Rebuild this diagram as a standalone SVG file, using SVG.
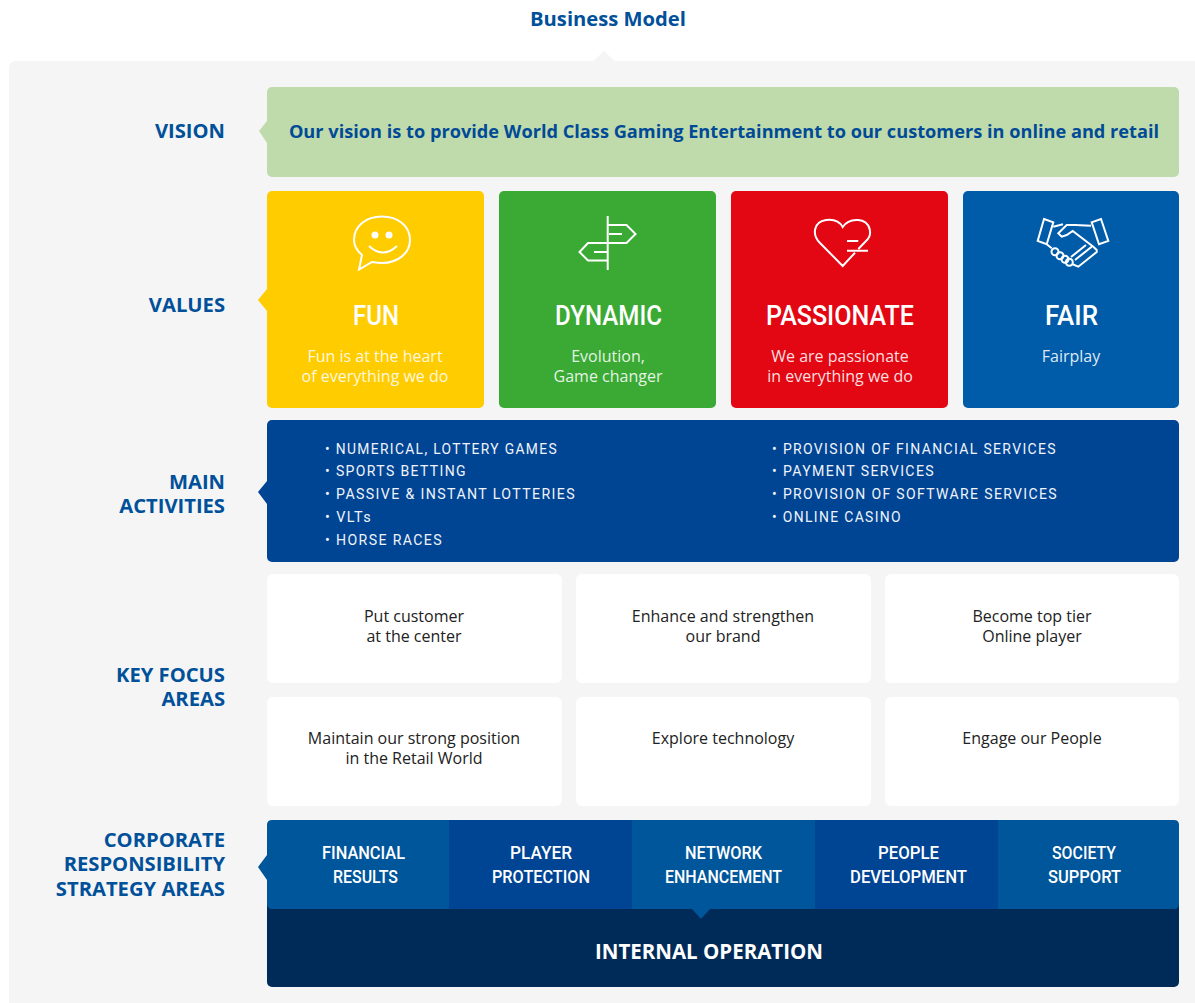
<svg xmlns="http://www.w3.org/2000/svg" width="1195" height="1003" viewBox="0 0 1195 1003">
<style>
.s{font-family:"Open Sans","Liberation Sans",sans-serif}
.lab{font-family:"Open Sans","Liberation Sans",sans-serif;font-weight:700;font-size:20.200px;fill:#00509a;text-anchor:end}
.big{font-family:"Roboto","Liberation Sans",sans-serif;font-weight:500;font-size:27px;fill:#fff;text-anchor:middle}
.sub{font-family:"Open Sans","Liberation Sans",sans-serif;font-size:16px;fill:#fff;fill-opacity:.88;text-anchor:middle}
.foc{font-family:"Open Sans","Liberation Sans",sans-serif;font-size:16px;fill:#222;text-anchor:middle}
.act{font-family:"Roboto","Liberation Sans",sans-serif;font-size:15.500px;fill:#f0f4fa;letter-spacing:1.500px}
.str{font-family:"Roboto","Liberation Sans",sans-serif;font-weight:500;font-size:18px;fill:#fff;text-anchor:middle}
.ic{fill:none;stroke:#fff;stroke-width:2;stroke-linejoin:miter}
</style>
<rect width="1195" height="1003" fill="#fff"/>
<g id="panel"><path d="M16 61H593L604 51L615 61H1195V1003H9V68Q9 61 16 61Z" fill="#f5f5f5"/></g>
<text id="title" x="608" y="26" class="s" font-size="20.200" font-weight="700" fill="#00509a" text-anchor="middle">Business Model</text>
<g id="vision">
<text x="225" y="138" class="lab">VISION</text>
<path d="M267 121L259 131L267 143Z" fill="#c0dbab"/>
<rect x="267" y="87" width="912" height="90" rx="5" fill="#c0dbab"/>
<text x="724" y="138" class="s" font-size="18.200" font-weight="700" fill="#004a97" text-anchor="middle">Our vision is to provide World Class Gaming Entertainment to our customers in online and retail</text>
</g>
<g id="values">
<text x="225" y="312" class="lab">VALUES</text>
<path d="M267 289L258 300L267 311Z" fill="#ffcc00"/>
</g>
<g id="fun">
<rect x="267" y="191" width="217" height="217" rx="5" fill="#ffcc00"/>
<path class="ic" d="M359 269.500L362 255C356 250 354 246 354 240C354 226 366 216.500 382 216.500C398 216.500 410 226 410 240C410 253 398 263 382 263C378 263 375 262.500 372 262Z"/>
<circle cx="375" cy="235" r="3.500" fill="#fff"/><circle cx="389" cy="235" r="3.500" fill="#fff"/>
<path class="ic" d="M369 246Q383 259 397 246"/>
<text x="376" y="325" class="big" textLength="46" lengthAdjust="spacingAndGlyphs">FUN</text>
<text class="sub"><tspan x="375" y="362">Fun is at the heart</tspan><tspan x="375" y="382">of everything we do</tspan></text>
</g>
<g id="dynamic">
<rect x="499" y="191" width="217" height="217" rx="5" fill="#3aaa35"/>
<path class="ic" d="M607.700 216V270M608 225H626.500L635.500 234L626.500 243H588L579.500 252L588 260.500H608M609 234H622M594 252H608"/>
<text x="608.500" y="325" class="big" textLength="107" lengthAdjust="spacingAndGlyphs">DYNAMIC</text>
<text class="sub"><tspan x="608" y="362">Evolution,</tspan><tspan x="608" y="382">Game changer</tspan></text>
</g>
<g id="passionate">
<rect x="731" y="191" width="217" height="217" rx="5" fill="#e30613"/>
<path class="ic" d="M855 252.700L842.700 266L820 243C812 235 813 222 826 220C834 219 840 222 842.700 227C846 222 851 219.500 858 220C871 221 873 235 866 241L858.300 249M847 241H858.300M847 250.700H868"/>
<text x="840" y="325" class="big" textLength="148" lengthAdjust="spacingAndGlyphs">PASSIONATE</text>
<text class="sub"><tspan x="840" y="362">We are passionate</tspan><tspan x="840" y="382">in everything we do</tspan></text>
</g>
<g id="fair">
<rect x="963" y="191" width="216" height="217" rx="5" fill="#005ca9"/>
<path class="ic" d="M1044 219L1053.300 222.300L1046.700 244.300L1037.700 241ZM1101 219L1108.300 241L1099 244.300L1091.700 222.300ZM1091 225.700L1075 225H1066.700L1058.300 233.300L1061.700 236.700L1066.700 235L1072.700 231L1093.300 246.700L1096.700 250V252L1078.300 266.700L1072 264M1053.300 226.700L1063 224.300M1046.700 244.300L1051.700 248.300M1091.700 246.700L1075 260M1086 245L1071 257"/>
<g class="ic"><circle cx="1055" cy="251.700" r="3.500"/><circle cx="1060" cy="255.700" r="3.500"/><circle cx="1065" cy="259.300" r="3.500"/><circle cx="1069.300" cy="262.300" r="3.500"/></g>
<text x="1071.500" y="325" class="big" textLength="53" lengthAdjust="spacingAndGlyphs">FAIR</text>
<text x="1071" y="362" class="sub">Fairplay</text>
</g>
<g id="main-activities">
<text class="lab"><tspan x="225" y="489">MAIN</tspan><tspan x="225" y="513">ACTIVITIES</tspan></text>
<path d="M267 481L258 492L267 504Z" fill="#004494"/>
<rect x="267" y="420" width="912" height="142" rx="5" fill="#004494"/>
<text class="act" x="325" y="454" textLength="233" lengthAdjust="spacingAndGlyphs">• NUMERICAL, LOTTERY GAMES</text>
<text class="act" x="325" y="476" textLength="142" lengthAdjust="spacingAndGlyphs">• SPORTS BETTING</text>
<text class="act" x="325" y="499" textLength="251" lengthAdjust="spacingAndGlyphs">• PASSIVE &amp; INSTANT LOTTERIES</text>
<text class="act" x="325" y="522" textLength="47" lengthAdjust="spacingAndGlyphs">• VLTs</text>
<text class="act" x="325" y="545" textLength="118" lengthAdjust="spacingAndGlyphs">• HORSE RACES</text>
<text class="act" x="772" y="454" textLength="285" lengthAdjust="spacingAndGlyphs">• PROVISION OF FINANCIAL SERVICES</text>
<text class="act" x="772" y="476" textLength="163" lengthAdjust="spacingAndGlyphs">• PAYMENT SERVICES</text>
<text class="act" x="772" y="499" textLength="286" lengthAdjust="spacingAndGlyphs">• PROVISION OF SOFTWARE SERVICES</text>
<text class="act" x="772" y="522" textLength="130" lengthAdjust="spacingAndGlyphs">• ONLINE CASINO</text>
</g>
<g id="key-focus">
<text class="lab"><tspan x="225" y="682">KEY FOCUS</tspan><tspan x="225" y="706">AREAS</tspan></text>
<rect x="267" y="574" width="295" height="109" rx="6" fill="#fff"/>
<rect x="576" y="574" width="295" height="109" rx="6" fill="#fff"/>
<rect x="885" y="574" width="294" height="109" rx="6" fill="#fff"/>
<rect x="267" y="697" width="295" height="109" rx="6" fill="#fff"/>
<rect x="576" y="697" width="295" height="109" rx="6" fill="#fff"/>
<rect x="885" y="697" width="294" height="109" rx="6" fill="#fff"/>
<text class="foc"><tspan x="414" y="622">Put customer</tspan><tspan x="414" y="642">at the center</tspan></text>
<text class="foc"><tspan x="723" y="622">Enhance and strengthen</tspan><tspan x="723" y="642">our brand</tspan></text>
<text class="foc"><tspan x="1032" y="622">Become top tier</tspan><tspan x="1032" y="642">Online player</tspan></text>
<text class="foc"><tspan x="414" y="744">Maintain our strong position</tspan><tspan x="414" y="764">in the Retail World</tspan></text>
<text class="foc" x="723" y="744">Explore technology</text>
<text class="foc" x="1032" y="744">Engage our People</text>
</g>
<g id="internal-operation">
<rect x="267" y="880" width="912" height="107" rx="5" fill="#002b59"/>
<text x="709" y="959" class="s" font-size="20.500" font-weight="700" fill="#fff" text-anchor="middle">INTERNAL OPERATION</text>
</g>
<g id="strategy">
<text class="lab"><tspan x="225" y="847">CORPORATE</tspan><tspan x="225" y="871">RESPONSIBILITY</tspan><tspan x="225" y="896">STRATEGY AREAS</tspan></text>
<path d="M267 855L258 867L267 880Z" fill="#00569b"/>
<path d="M272 820H449V909H272Q267 909 267 904V825Q267 820 272 820Z" fill="#00569b"/>
<rect x="449" y="820" width="183" height="89" fill="#004494"/>
<path d="M632 820H815V909H710L701 919L692 909H632Z" fill="#00569b"/>
<rect x="815" y="820" width="183" height="89" fill="#004494"/>
<path d="M998 820H1174Q1179 820 1179 825V904Q1179 909 1174 909H998Z" fill="#00569b"/>
<text class="str" x="363.500" y="859" textLength="83" lengthAdjust="spacingAndGlyphs">FINANCIAL</text><text class="str" x="365.500" y="883" textLength="65" lengthAdjust="spacingAndGlyphs">RESULTS</text>
<text class="str" x="541" y="859" textLength="62" lengthAdjust="spacingAndGlyphs">PLAYER</text><text class="str" x="541" y="883" textLength="98" lengthAdjust="spacingAndGlyphs">PROTECTION</text>
<text class="str" x="723.500" y="859" textLength="77" lengthAdjust="spacingAndGlyphs">NETWORK</text><text class="str" x="723.500" y="883" textLength="117" lengthAdjust="spacingAndGlyphs">ENHANCEMENT</text>
<text class="str" x="908.500" y="859" textLength="61" lengthAdjust="spacingAndGlyphs">PEOPLE</text><text class="str" x="908.500" y="883" textLength="117" lengthAdjust="spacingAndGlyphs">DEVELOPMENT</text>
<text class="str" x="1084" y="859" textLength="64" lengthAdjust="spacingAndGlyphs">SOCIETY</text><text class="str" x="1084.500" y="883" textLength="73" lengthAdjust="spacingAndGlyphs">SUPPORT</text>
</g>
<g id="connectors"></g>
</svg>
